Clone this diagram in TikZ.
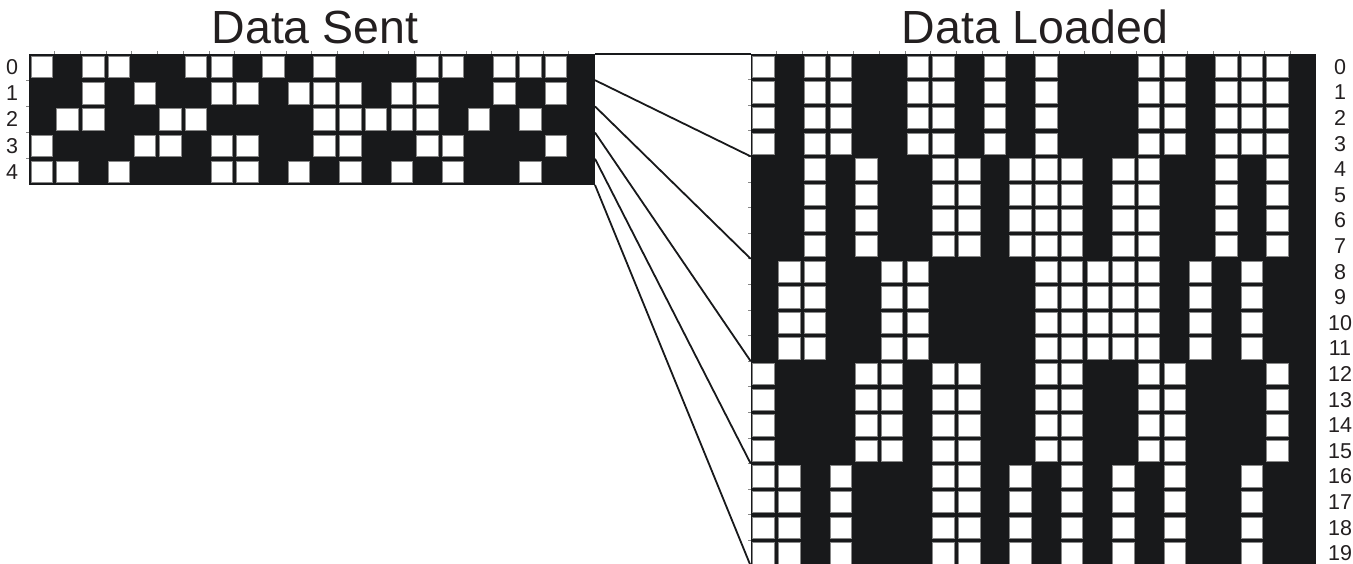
\documentclass[tikz,border=0pt]{standalone}
\usepackage{fontspec}
\setsansfont{Liberation Sans}
\usetikzlibrary{positioning}

\definecolor{inkblack}{RGB}{24,25,27}
\definecolor{textblack}{RGB}{35,31,32}
\definecolor{cellgray}{RGB}{135,135,135}

% white bits of each row that is sent
\newcommand\sentbits{0/{0,2,3,6,7,9,11,15,16,18,19,20},
  1/{2,4,7,8,10,11,12,14,15,18,20},
  2/{1,2,5,6,11,12,13,14,15,17,19},
  3/{0,4,5,7,8,11,12,15,16,20},
  4/{0,1,3,7,8,10,12,14,16,19}}

\begin{document}
\begin{tikzpicture}
  [
    x                   = 1pt,
    y                   = -1pt,
    grid fill/.style    = {fill=inkblack},
    bit cell/.style     = {fill=white, draw=cellgray, line width=0.7pt},
    gridtick/.style     = {draw=cellgray, line width=0.7pt},
    wire/.style         = {draw=inkblack, line width=1.8pt},
    row label/.style    = {font=\sffamily\fontsize{21.5}{21.5}\selectfont, text=textblack, anchor=base, inner sep=0pt},
    grid title/.style   = {font=\sffamily\fontsize{46.5}{46.5}\selectfont, text=textblack, anchor=base, inner sep=0pt}
  ]

  \clip (0,0) rectangle (1353,564);

  % titles
  \node[grid title] (sent title)   at (315,43.3)  {Data Sent};
  \node[grid title] (loaded title) at (1035,43.3) {Data Loaded};

  % data sent: 5 rows of 22 bits
  \fill[grid fill] (29,54) rectangle (595,185);
  \foreach \c in {1,...,21}
    \draw[gridtick] ({29+\c*25.7},54) -- ++(0,-3);
  \foreach \r in {1,...,4}
    \draw[gridtick] (29,{54+\r*26.2}) -- ++(-3,0);
  \foreach \r/\cols in \sentbits {
    \foreach \c in \cols
      \draw[bit cell] ({29+\c*25.7+2.1},{54+\r*26.2+2.4}) rectangle ++(21.5,21.4);
    \node[row label] (sent-lbl-\r) at (12,{54+(\r+0.5)*26.2+7.5}) {\r};
  }

  % data loaded: every row four times
  \fill[grid fill] (750.7,54) rectangle (1316,566);
  \foreach \c in {1,...,21}
    \draw[gridtick] ({750.7+\c*25.7},54) -- ++(0,-3);
  \foreach \r in {1,...,19}
    \draw[gridtick] (750.7,{54+\r*25.6}) -- ++(-3,0);
  \foreach \r/\cols in \sentbits {
    \foreach \k in {0,...,3} {
      \foreach \c in \cols
        \draw[bit cell] ({750.7+\c*25.7+2.1},{54+(4*\r+\k)*25.6+2.1}) rectangle ++(21.5,21.4);
    }
  }
  \foreach \r in {0,...,19}
    \node[row label] (loaded-lbl-\r) at (1340,{54+(\r+0.5)*25.6+7.5}) {\r};

  % connectors
  \foreach \k in {0,...,5} {
    \coordinate (sent-\k)   at (595,{54+\k*26.2});
    \coordinate (loaded-\k) at (750.7,{54+\k*4*25.6});
    \draw[wire] (sent-\k) -- (loaded-\k);
  }
\end{tikzpicture}
\end{document}
